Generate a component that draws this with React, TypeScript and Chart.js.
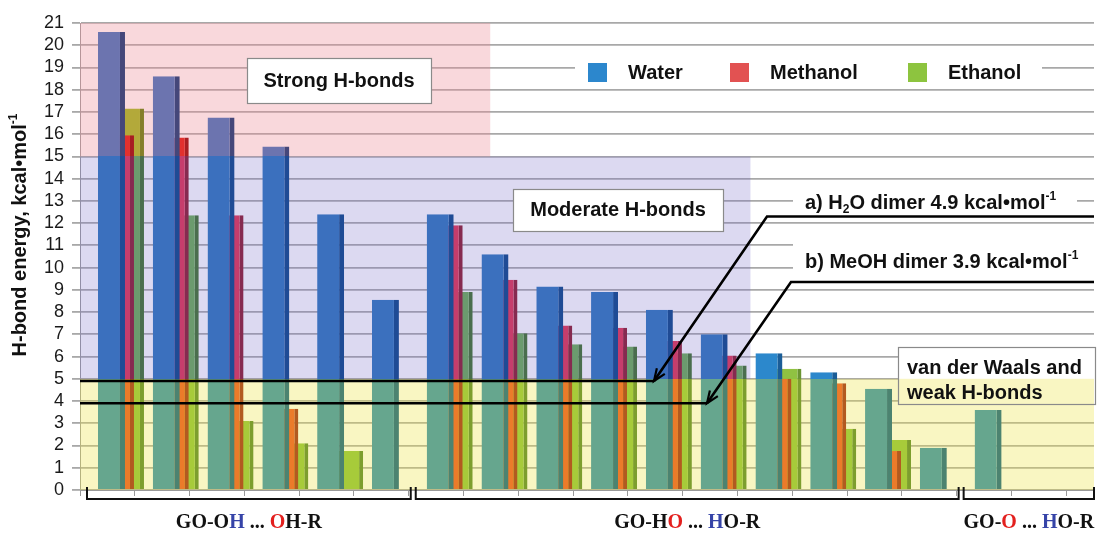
import React, { useEffect, useRef } from 'react';
import { Chart, registerables } from 'chart.js';

Chart.register(...registerables);

// ---------------- data ----------------
const SERIES_NAMES = ['Water', 'Methanol', 'Ethanol'];
// group index of each category (bar cluster), left to right
const CATEGORY_GROUP = [0, 0, 0, 0, 0, 0, 1, 1, 1, 1, 1, 1, 1, 1, 1, 1, 2, 2];
const WATER = [20.6, 18.6, 16.75, 15.45, 12.4, 8.55, 12.4, 10.6, 9.15, 8.9, 8.1, 7.0, 6.15, 5.3, 4.55, 1.9, 3.6, null];
const METHANOL = [15.95, 15.85, 12.35, 3.65, null, null, 11.9, 9.45, 7.4, 7.3, 6.7, 6.05, 5.0, 4.8, 1.75, null, null, null];
const ETHANOL = [17.15, 12.35, 3.1, 2.1, 1.75, null, 8.9, 7.05, 6.55, 6.45, 6.15, 5.6, 5.45, 2.75, 2.25, null, null, null];
const SERIES_VALUES = [WATER, METHANOL, ETHANOL];

const GROUP_NAMES = ['GO-OH ... OH-R', 'GO-HO ... HO-R', 'GO-O ... HO-R'];
const GROUP_RED_CHAR = [10, 4, 3];
const GROUP_BLUE_CHAR = [4, 10, 9];

const Y_MIN = 0;
const Y_MAX = 21;
const Y_STEP = 1;
const Y_TITLE = 'H-bond energy, kcal•mol';

// H-bond strength zones (energy ranges)
const ZONE_NAMES = ['van der Waals and weak H-bonds', 'Moderate H-bonds', 'Strong H-bonds'];
const ZONE_FROM = [0, 5, 15];
const ZONE_TO = [5, 15, 21];

// reference dimer energies
const DIMER_PREFIX = ['a) H', 'b) MeOH dimer '];
const DIMER_SUB = ['2', ''];
const DIMER_MID = ['O dimer ', ''];
const DIMER_VALUES = [4.9, 3.9];

// ---------------- layout / style ----------------
const X_MIN = -0.757;
const X_MAX = 17.75;
const ZONE_X_END = [X_MAX, 11.48, 6.73];
const ZONE_FILL = ['rgba(238, 228, 70, 0.33)', 'rgba(118, 108, 200, 0.26)', 'rgba(238, 140, 152, 0.34)'];

const SANS = '"Liberation Sans", Arial, sans-serif';
const SERIF = '"Liberation Serif", "Times New Roman", serif';

// colours: [weak zone, moderate zone, strong zone, outside zones]
const SERIES_STYLE = [
  {
    legend: '#2C87CD',
    front: ['#66A68E', '#3B70BE', '#6C74AF', '#2C88CC'],
    side: ['#4C8370', '#1F4B95', '#45477A', '#1B5D97'],
    barPct: 2.7,
    sideW: 5,
  },
  {
    legend: '#E25252',
    front: ['#EB7B2A', '#C63D6C', '#E2302E', '#E04848'],
    side: ['#B25A20', '#862A50', '#A81E22', '#A83030'],
    barPct: 2.5,
    sideW: 4,
  },
  {
    legend: '#8DC43F',
    front: ['#A7CB3A', '#6B9B6E', '#B3A93A', '#90C242'],
    side: ['#7D9E2E', '#4A6E4E', '#857E2A', '#6A9432'],
    barPct: 2.5,
    sideW: 4,
  },
];

function zoneGradient(ctx: any, colors: string[]) {
  const chart = ctx.chart;
  const x = chart.scales?.x;
  const y = chart.scales?.y;
  if (!chart.chartArea || !x || !y) return colors[3];
  const i = ctx.dataIndex ?? 0;
  const edge = i + 0.45;
  const y0 = y.getPixelForValue(Y_MIN);
  const y1 = y.getPixelForValue(Y_MAX);
  const g = chart.ctx.createLinearGradient(0, y0, 0, y1);
  const span = Y_MAX - Y_MIN;
  const stops: [number, string][] = [];
  for (let z = 0; z < ZONE_FROM.length; z++) {
    const c = edge <= ZONE_X_END[z] ? colors[z] : colors[3];
    stops.push([(ZONE_FROM[z] - Y_MIN) / span, c]);
    stops.push([(ZONE_TO[z] - Y_MIN) / span, c]);
  }
  for (const [o, c] of stops) g.addColorStop(Math.min(1, Math.max(0, o)), c);
  return g;
}

function drawRich(ctx: CanvasRenderingContext2D, parts: { t: string; s?: string }[], x: number, y: number, size: number) {
  let cx = x;
  ctx.textBaseline = 'middle';
  ctx.textAlign = 'left';
  for (const p of parts) {
    if (!p.t) continue;
    if (p.s) {
      ctx.font = `bold ${Math.round(size * 0.58)}px ${SANS}`;
      const dy = p.s === 'sub' ? size * 0.32 : -size * 0.32;
      ctx.fillText(p.t, cx, y + dy);
      cx += ctx.measureText(p.t).width;
    } else {
      ctx.font = `bold ${size}px ${SANS}`;
      ctx.fillText(p.t, cx, y);
      cx += ctx.measureText(p.t).width;
    }
  }
  return cx;
}

const overlayPlugin = {
  id: 'hbondOverlay',
  beforeDatasetsDraw(chart: any) {
    const { ctx, chartArea: a, scales } = chart;
    const { x, y } = scales;
    ctx.save();
    // white patches behind legend / captions (hide gridlines)
    ctx.fillStyle = '#ffffff';
    ctx.fillRect(575, 52, 467, 34);
    ctx.fillRect(793, 189, 284, 24);
    ctx.fillRect(793, 236, a.right - 793, 38);
    ctx.fillRect(898, 347, 197, 57);
    // translucent zones
    for (let z = 0; z < ZONE_FROM.length; z++) {
      const top = y.getPixelForValue(ZONE_TO[z]);
      const bot = y.getPixelForValue(ZONE_FROM[z]);
      const right = x.getPixelForValue(ZONE_X_END[z]);
      ctx.fillStyle = ZONE_FILL[z];
      ctx.fillRect(a.left, top, right - a.left, bot - top);
    }
    ctx.restore();
  },
  afterDatasetsDraw(chart: any) {
    const { ctx, chartArea: a, scales } = chart;
    const { x, y } = scales;
    ctx.save();

    // zone caption boxes
    const box = (bx: number, by: number, bw: number, bh: number, fill: boolean) => {
      if (fill) {
        ctx.fillStyle = '#ffffff';
        ctx.fillRect(bx, by, bw, bh);
      }
      ctx.strokeStyle = '#8a8a8a';
      ctx.lineWidth = 1.2;
      ctx.strokeRect(bx + 0.5, by + 0.5, bw, bh);
    };
    box(247, 58, 184, 45, true);
    ctx.fillStyle = '#111';
    ctx.font = `bold 20px ${SANS}`;
    ctx.textAlign = 'center';
    ctx.textBaseline = 'middle';
    ctx.fillText(ZONE_NAMES[2], 339, 81);

    box(513, 189, 210, 42, true);
    ctx.fillStyle = '#111';
    ctx.font = `bold 20px ${SANS}`;
    ctx.textAlign = 'center';
    ctx.fillText(ZONE_NAMES[1], 618, 210);

    box(898, 347, 197, 57, false);
    ctx.fillStyle = '#111';
    ctx.font = `bold 20px ${SANS}`;
    ctx.textAlign = 'left';
    const words = ZONE_NAMES[0].split(' ');
    ctx.fillText(words.slice(0, 4).join(' '), 907, 368);
    ctx.fillText(words.slice(4).join(' '), 907, 393);

    // legend
    const legendX = [588, 730, 908];
    for (let s = 0; s < SERIES_NAMES.length; s++) {
      ctx.fillStyle = SERIES_STYLE[s].legend;
      ctx.fillRect(legendX[s], 63, 19, 19);
      ctx.fillStyle = '#111';
      ctx.font = `bold 20px ${SANS}`;
      ctx.textAlign = 'left';
      ctx.textBaseline = 'middle';
      ctx.fillText(SERIES_NAMES[s], legendX[s] + 40, 73);
    }

    // dimer reference lines with arrows
    const lineLayout = [
      { tipX: 654, bendX: 767, bendY: 216.5, textY: 203 },
      { tipX: 707, bendX: 791, bendY: 282, textY: 262 },
    ];
    for (let d = 0; d < DIMER_VALUES.length; d++) {
      const L = lineLayout[d];
      const yy = y.getPixelForValue(DIMER_VALUES[d]);
      ctx.strokeStyle = '#000';
      ctx.lineWidth = 2.6;
      ctx.lineJoin = 'miter';
      ctx.beginPath();
      ctx.moveTo(a.left, yy);
      ctx.lineTo(L.tipX, yy);
      ctx.stroke();
      ctx.beginPath();
      ctx.moveTo(L.tipX, yy);
      ctx.lineTo(L.bendX, L.bendY);
      ctx.lineTo(a.right, L.bendY);
      ctx.stroke();
      // arrow head
      const ang = Math.atan2(yy - L.bendY, L.tipX - L.bendX);
      const len = 13;
      ctx.lineWidth = 2.2;
      ctx.beginPath();
      ctx.moveTo(L.tipX - len * Math.cos(ang - 0.38), yy - len * Math.sin(ang - 0.38));
      ctx.lineTo(L.tipX, yy);
      ctx.lineTo(L.tipX - len * Math.cos(ang + 0.38), yy - len * Math.sin(ang + 0.38));
      ctx.stroke();
      // caption
      ctx.fillStyle = '#111';
      drawRich(
        ctx,
        [
          { t: DIMER_PREFIX[d] },
          { t: DIMER_SUB[d], s: 'sub' },
          { t: DIMER_MID[d] + DIMER_VALUES[d].toFixed(1) + ' kcal•mol' },
          { t: '-1', s: 'sup' },
        ],
        805,
        L.textY,
        20
      );
    }

    // group brackets and labels
    const nGroups = GROUP_NAMES.length;
    for (let g = 0; g < nGroups; g++) {
      const first = CATEGORY_GROUP.indexOf(g);
      const last = CATEGORY_GROUP.lastIndexOf(g);
      const x0 = x.getPixelForValue(X_MIN + first) + 7;
      const x1 = g === nGroups - 1 ? a.right : x.getPixelForValue(X_MIN + last + 1) + 2;
      ctx.strokeStyle = '#111';
      ctx.lineWidth = 2;
      ctx.beginPath();
      ctx.moveTo(x0, a.bottom - 3);
      ctx.lineTo(x0, a.bottom + 9);
      ctx.lineTo(x1, a.bottom + 9);
      ctx.lineTo(x1, a.bottom - 3);
      ctx.stroke();
      // label with coloured atoms
      const name = GROUP_NAMES[g];
      ctx.font = `bold 20px ${SERIF}`;
      const w = ctx.measureText(name).width;
      let cx = (x0 + x1) / 2 - w / 2;
      ctx.textAlign = 'left';
      ctx.textBaseline = 'middle';
      for (let c = 0; c < name.length; c++) {
        ctx.fillStyle = c === GROUP_RED_CHAR[g] ? '#E3201E' : c === GROUP_BLUE_CHAR[g] ? '#3644A8' : '#111';
        ctx.fillText(name[c], cx, 523);
        cx += ctx.measureText(name[c]).width;
      }
    }

    // y axis title (rotated, with superscript)
    ctx.save();
    ctx.translate(20, 235);
    ctx.rotate(-Math.PI / 2);
    ctx.fillStyle = '#111';
    ctx.font = `bold 20px ${SANS}`;
    const tw = ctx.measureText(Y_TITLE).width;
    ctx.font = `bold 12px ${SANS}`;
    const sw = ctx.measureText('-1').width;
    drawRich(ctx, [{ t: Y_TITLE }, { t: '-1', s: 'sup' }], -(tw + sw) / 2, 0, 20);
    ctx.restore();

    ctx.restore();
  },
};

export default function App() {
  const canvasRef = useRef<HTMLCanvasElement | null>(null);

  useEffect(() => {
    const canvas = canvasRef.current;
    if (!canvas) return;
    const labels = CATEGORY_GROUP.map((_, i) => i);
    const boundaryTicks = Array.from({ length: Math.floor(X_MAX - X_MIN) + 1 }, (_, k) => ({ value: X_MIN + k }));

    const chart = new Chart(canvas, {
      type: 'bar',
      data: {
        labels,
        datasets: SERIES_NAMES.map((name, s) => ({
          label: name,
          data: SERIES_VALUES[s],
          backgroundColor: (ctx: any) => zoneGradient(ctx, SERIES_STYLE[s].front),
          borderColor: (ctx: any) => zoneGradient(ctx, SERIES_STYLE[s].side),
          borderWidth: { top: 0, left: 0, bottom: 0, right: SERIES_STYLE[s].sideW },
          borderSkipped: false,
          barPercentage: SERIES_STYLE[s].barPct,
          categoryPercentage: 0.5475,
        })),
      },
      options: {
        responsive: false,
        animation: false,
        devicePixelRatio: 1,
        layout: { padding: { top: 23, right: 5, bottom: 0, left: 0 } },
        plugins: {
          legend: { display: false },
          tooltip: { enabled: false },
          title: { display: false },
        },
        scales: {
          x: {
            type: 'linear',
            min: X_MIN,
            max: X_MAX,
            offset: false,
            afterBuildTicks: (axis: any) => {
              axis.ticks = boundaryTicks.map((t) => ({ value: t.value }));
            },
            afterFit: (scale: any) => {
              scale.height = 43;
            },
            grid: { display: true, drawOnChartArea: false, drawTicks: true, tickLength: 6, color: '#9a9a9a', lineWidth: 1, offset: false },
            ticks: { display: false },
            border: { display: true, color: '#9a9a9a', width: 1 },
          },
          y: {
            min: Y_MIN,
            max: Y_MAX,
            afterFit: (scale: any) => {
              scale.width = 80;
            },
            ticks: {
              stepSize: Y_STEP,
              autoSkip: false,
              color: '#1a1a1a',
              padding: 8,
              font: { family: SANS, size: 18 },
            },
            grid: { color: '#a8a8a8', lineWidth: 1.8, tickLength: 8 },
            border: { display: true, color: '#9a9a9a', width: 1 },
          },
        },
      },
      plugins: [overlayPlugin],
    } as any);

    return () => chart.destroy();
  }, []);

  return (
    <div style={{ position: 'fixed', left: 0, top: 0, width: 1099, height: 533, background: '#ffffff' }}>
      <canvas ref={canvasRef} width={1099} height={533} style={{ display: 'block', width: 1099, height: 533 }} />
    </div>
  );
}
